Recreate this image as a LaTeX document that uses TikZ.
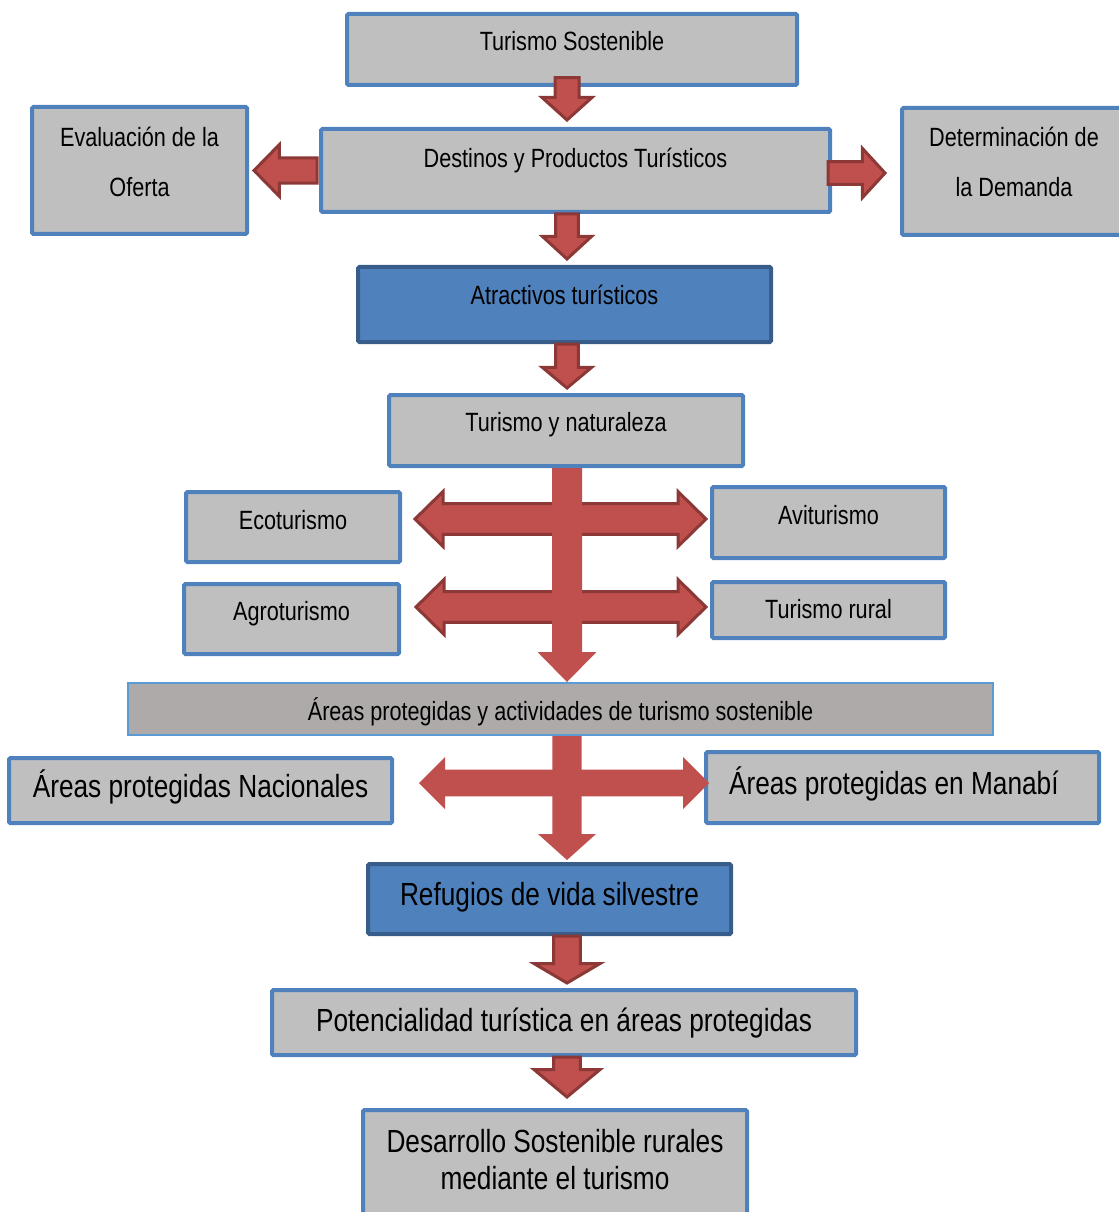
\documentclass[tikz,border=0pt]{standalone}
\usepackage{fontspec}
\setmainfont{Liberation Sans}[FakeStretch=0.82]
\usetikzlibrary{calc}
\definecolor{boxgray}{HTML}{BFBFBF}
\definecolor{boxblue}{HTML}{4F81BD}
\definecolor{darkblue}{HTML}{385D8A}
\definecolor{areagray}{HTML}{AEAAAA}
\definecolor{lightblue}{HTML}{5B9BD5}
\definecolor{arrowred}{HTML}{C0504D}
\definecolor{arrowdark}{HTML}{8C3836}
\newcommand{\smalltext}{\fontsize{19.8pt}{37.5pt}\selectfont}
\newcommand{\bigtext}{\fontsize{24pt}{27.75pt}\selectfont}
% block arrows: [style], from, tip, shaft half width, head half width, head length
\newcommand{\downblk}[6][]{%
  \draw[blk,#1] let \p1=#2, \p2=#3 in
    ({\x2-#4},\y1) -- ({\x2-#4},{\y2+#6}) -- ({\x2-#5},{\y2+#6}) -- (\x2,\y2)
    -- ({\x2+#5},{\y2+#6}) -- ({\x2+#4},{\y2+#6}) -- ({\x2+#4},\y1) -- cycle;}
% head length signed: + points right, - points left
\newcommand{\sideblk}[6][]{%
  \draw[blk,#1] let \p1=#2, \p2=#3 in
    (\x1,{\y1-#4}) -- ({\x2-(#6)},{\y1-#4}) -- ({\x2-(#6)},{\y1-#5}) -- (\x2,\y1)
    -- ({\x2-(#6)},{\y1+#5}) -- ({\x2-(#6)},{\y1+#4}) -- (\x1,{\y1+#4}) -- cycle;}
\newcommand{\dblblk}[6][]{%
  \draw[blk,#1] let \p1=#2, \p2=#3 in
    (\x1,\y1) -- ({\x1+#6},{\y1+#5}) -- ({\x1+#6},{\y1+#4}) -- ({\x2-#6},{\y1+#4})
    -- ({\x2-#6},{\y1+#5}) -- (\x2,\y1) -- ({\x2-#6},{\y1-#5}) -- ({\x2-#6},{\y1-#4})
    -- ({\x1+#6},{\y1-#4}) -- ({\x1+#6},{\y1-#5}) -- cycle;}
\tikzset{
  box/.style={draw=boxblue, fill=boxgray, line width=3pt, rounded corners=1pt,
    inner sep=0pt, font=\smalltext, align=center},
  bluebox/.style={box, draw=darkblue, fill=boxblue},
  bigbox/.style={box, font=\bigtext},
  areabox/.style={box, draw=lightblue, fill=areagray, line width=1.5pt, rounded corners=0pt},
  tb/.style 2 args={text height=#1, text depth=#2},
  blk/.style={fill=arrowred, draw=arrowdark, line width=2.25pt},
  blkplain/.style={draw=none}
}
\begin{document}
\begin{tikzpicture}[x=0.75pt,y=-0.75pt]
\useasboundingbox (0,0) rectangle (1119,1212);
\coordinate (axis) at (567,0);
\coordinate (row1) at (567,519);
\coordinate (row2) at (567,607);
\coordinate (row3) at (567,783);

% boxes
\node[box, minimum width=337.5pt, minimum height=53.25pt, tb={16.1pt}{13.9pt}] (tsost) at (572,49.5) {Turismo Sostenible};
\node[box, minimum width=381.75pt, minimum height=62.25pt, tb={12.4pt}{17.6pt}] (dest) at (575.5,170.5) {Destinos y Productos Turísticos};
\node[box, minimum width=161.25pt, minimum height=95.25pt, tb={40pt}{0.25pt}] (eval) at (139.5,170.5) {Evaluación de la\\Oferta};
\node[box, minimum width=168pt, minimum height=95.25pt, tb={40pt}{1.75pt}] (demand) at (1014,171.5) {Determinación de\\la Demanda};
\node[bluebox, minimum width=309.75pt, minimum height=56.25pt, tb={15pt}{15pt}] (atr) at (564.5,304.5) {Atractivos turísticos};
\node[box, minimum width=265.5pt, minimum height=53.25pt, tb={16.1pt}{13.9pt}] (tnat) at (566,430.5) {Turismo y naturaleza};
\node[box, minimum width=160.5pt, minimum height=52.5pt, tb={16.5pt}{13.5pt}] (eco) at (293,527) {Ecoturismo};
\node[box, minimum width=161.25pt, minimum height=52.5pt, tb={15.75pt}{14.25pt}] (agro) at (291.5,619) {Agroturismo};
\node[box, minimum width=174.75pt, minimum height=53.25pt, tb={16.5pt}{13.5pt}] (avi) at (828.5,522.5) {Aviturismo};
\node[box, minimum width=174.75pt, minimum height=42pt, tb={21pt}{9pt}] (rural) at (828.5,610) {Turismo rural};
\node[areabox, minimum width=648.75pt, minimum height=39pt, tb={23.25pt}{6.75pt}] (apact) at (560.5,709) {Áreas protegidas y actividades de turismo sostenible};
\node[bigbox, minimum width=287.25pt, minimum height=48.75pt, tb={20.6pt}{9.4pt}] (apnac) at (200.5,790.5) {Áreas protegidas Nacionales};
\node[bigbox, minimum width=294.75pt, minimum height=53.25pt, tb={20.25pt}{9.75pt}, text width=260.25pt, align=flush left] (apman) at (902.5,787.5) {Áreas protegidas en Manabí};
\node[bigbox, bluebox, font=\bigtext, minimum width=272.25pt, minimum height=52.5pt, tb={19.5pt}{10.5pt}] (refug) at (549.5,899) {Refugios de vida silvestre};
\node[bigbox, minimum width=438pt, minimum height=48.75pt, tb={22.1pt}{7.9pt}] (poten) at (564,1022.5) {Potencialidad turística en áreas protegidas};
\node[bigbox, minimum width=288pt, minimum height=103.5pt, tb={25pt}{10pt}] (desar) at (555,1179) {Desarrollo Sostenible rurales\\mediante el turismo};

% arrows
\downblk{([yshift=7.1pt]tsost.south)}{([yshift=5.25pt]axis |- dest.north)}{9pt}{18.75pt}{16.9pt}
\sideblk{([xshift=-1.5pt]dest.west)}{([xshift=3.75pt]eval.east)}{9.4pt}{19.5pt}{-19.1pt}
\sideblk{([xshift=-3pt,yshift=-1.9pt]dest.east)}{([xshift=-11.25pt]demand.west)}{8.6pt}{18.4pt}{16.9pt}
\downblk{(dest.south)}{([yshift=4.5pt]axis |- atr.north)}{8.6pt}{18.4pt}{16.9pt}
\downblk{(atr.south)}{([yshift=3.75pt]axis |- tnat.north)}{8.6pt}{18.4pt}{15.4pt}
\dblblk{([xshift=9.75pt]eco.east |- row1)}{([xshift=-3pt]avi.west |- row1)}{11.6pt}{20.6pt}{21pt}
\dblblk{([xshift=11.25pt]agro.east |- row2)}{([xshift=-3pt]rural.west |- row2)}{11.6pt}{20.6pt}{21pt}
\downblk[blkplain]{(tnat.south)}{(axis |- apact.north)}{11.25pt}{22.1pt}{22.5pt}
\dblblk[blkplain]{([xshift=18.75pt]apnac.east |- row3)}{([xshift=3.75pt]apman.west |- row3)}{10.1pt}{19.5pt}{19.5pt}
\downblk[blkplain]{(apact.south)}{([yshift=1.5pt]axis |- refug.north)}{10.9pt}{21.75pt}{19.5pt}
\downblk{(refug.south)}{([yshift=3.75pt]axis |- poten.north)}{10.1pt}{24.75pt}{14.6pt}
\downblk{(poten.south)}{([yshift=8.25pt]axis |- desar.north)}{10.1pt}{24.75pt}{20.6pt}
\end{tikzpicture}
\end{document}
